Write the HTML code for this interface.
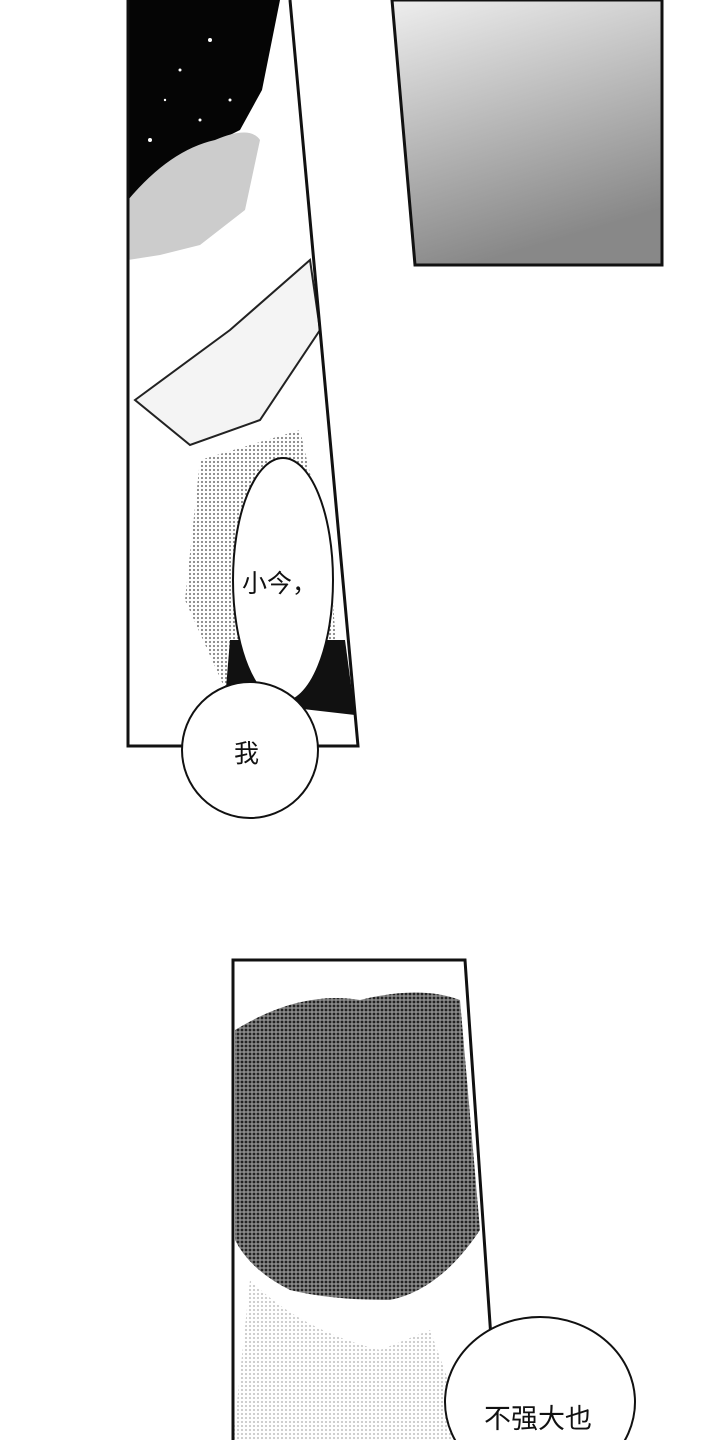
<!DOCTYPE html>
<html><head><meta charset="utf-8"><style>
html,body{margin:0;padding:0;background:#fff;}
body{width:720px;height:1440px;overflow:hidden;position:relative;}
svg{position:absolute;left:0;top:0;}
.t{font-family:"Liberation Sans","Noto Sans CJK SC",sans-serif;fill:#111;}
</style></head><body>
<svg width="720" height="1440" viewBox="0 0 720 1440">
<defs>
<pattern id="dots" width="4" height="4" patternUnits="userSpaceOnUse">
<rect width="4" height="4" fill="#fff"/><circle cx="2" cy="2" r="1.1" fill="#666"/></pattern>
<pattern id="dots2" width="4" height="4" patternUnits="userSpaceOnUse">
<rect width="4" height="4" fill="#888"/><circle cx="2" cy="2" r="1.4" fill="#222"/></pattern>
<linearGradient id="g1" x1="0" y1="0" x2="0.3" y2="1">
<stop offset="0" stop-color="#eee"/><stop offset="1" stop-color="#888"/></linearGradient>
</defs>
<polygon points="392,0 662,0 662,265 415,265" fill="url(#g1)" stroke="#111" stroke-width="3"/>
<polygon points="128,0 290,0 358,746 128,746" fill="#fff"/>
<polygon points="128,0 280,0 262,90 240,130 200,150 160,175 128,200" fill="#050505"/>
<g fill="#fff"><circle cx="210" cy="40" r="2"/><circle cx="180" cy="70" r="1.5"/><circle cx="150" cy="140" r="2"/><circle cx="230" cy="100" r="1.5"/><circle cx="165" cy="100" r="1.2"/><circle cx="200" cy="120" r="1.5"/></g>
<path d="M128,200 Q170,150 215,140 Q250,125 260,140 L245,210 L200,245 L160,255 L128,260 Z" fill="#ccc"/>
<polygon points="200,460 300,430 330,560 340,700 230,700 185,600" fill="url(#dots)" opacity="0.8"/>
<path d="M135,400 L230,330 L310,260 L320,330 L260,420 L190,445 Z" fill="#f4f4f4" stroke="#222" stroke-width="2"/>
<polygon points="230,640 345,640 355,715 225,700" fill="#111"/>
<polyline points="128,0 128,746 358,746 290,0" fill="none" stroke="#111" stroke-width="3"/>
<ellipse cx="283" cy="580" rx="50" ry="122" fill="#fff" stroke="#111" stroke-width="2"/>
<circle cx="250" cy="750" r="68" fill="#fff" stroke="#111" stroke-width="2"/>
<text class="t" x="242" y="592" font-size="25">小今，</text>
<text class="t" x="234" y="762" font-size="25">我</text>
<polygon points="233,960 465,960 498,1440 233,1440" fill="#fff"/>
<path d="M235,1030 Q300,990 360,1000 Q420,985 460,1000 L480,1230 Q440,1290 390,1300 Q330,1300 290,1290 Q250,1270 235,1240 Z" fill="url(#dots2)"/>
<path d="M250,1280 Q300,1330 380,1350 L430,1330 L470,1440 L233,1440 Z" fill="url(#dots)" opacity="0.35"/>
<polyline points="233,1440 233,960 465,960 498,1440" fill="none" stroke="#111" stroke-width="3"/>
<ellipse cx="540" cy="1402" rx="95" ry="85" fill="#fff" stroke="#111" stroke-width="2"/>
<text class="t" x="484" y="1428" font-size="27">不强大也</text>
</svg>
</body></html>
